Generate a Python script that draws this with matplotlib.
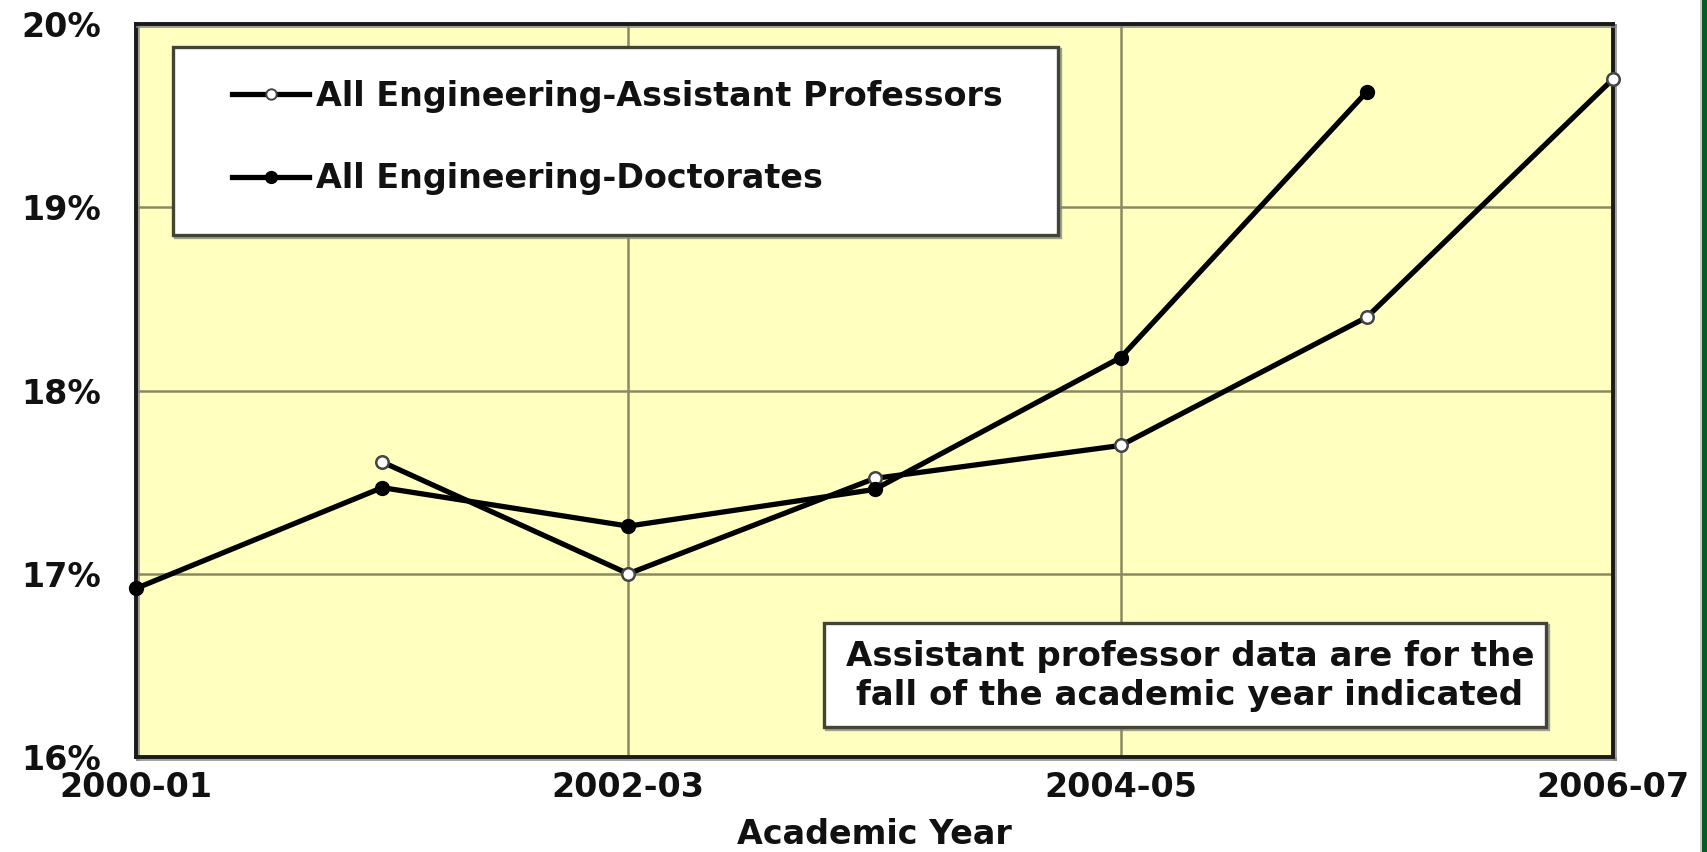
import numpy as np
import matplotlib
matplotlib.use("Agg")
import matplotlib.pyplot as plt
from matplotlib.patches import Rectangle
from matplotlib.lines import Line2D
import matplotlib.patheffects as pe

# ---- data ----
years = ["2000-01", "2001-02", "2002-03", "2003-04", "2004-05", "2005-06", "2006-07"]
tick_years = ["2000-01", "2002-03", "2004-05", "2006-07"]
asst_prof = [np.nan, 17.61, 17.00, 17.52, 17.70, 18.40, 19.70]
doctorates = [16.92, 17.47, 17.26, 17.46, 18.18, 19.63, np.nan]
y_ticks = [16, 17, 18, 19, 20]
y_tick_labels = ["16%", "17%", "18%", "19%", "20%"]
label_asst = "All Engineering-Assistant Professors"
label_doct = "All Engineering-Doctorates"
note_text = "Assistant professor data are for the\nfall of the academic year indicated"
x_label = "Academic Year"

plt.rcParams['font.family'] = ['DejaVu Sans']
plt.rcParams['font.weight'] = 'bold'

W, H = 1707, 852
fig = plt.figure(figsize=(W / 100, H / 100), dpi=100)
fig.patch.set_facecolor("white")

def fx(px):
    return px / W

def fy(py):
    return 1 - py / H

L, R, T, B = 136, 1613, 24, 757
ax = fig.add_axes([fx(L), fy(B), fx(R) - fx(L), fy(T) - fy(B)])
ax.set_facecolor("#FFFFC0")

x = np.arange(len(years))
shadow = [pe.SimpleLineShadow(offset=(1.5, -1.5), shadow_color="#888888", alpha=0.8), pe.Normal()]

ax.plot(x, asst_prof, color="black", lw=3.8, marker="o", markersize=9,
        markerfacecolor="white", markeredgecolor="#444444", markeredgewidth=1.8,
        clip_on=False, zorder=5, label=label_asst)
ax.plot(x, doctorates, color="black", lw=3.8, marker="o", markersize=10,
        markerfacecolor="black", markeredgecolor="black",
        clip_on=False, zorder=5, label=label_doct)

ax.set_xlim(0, len(years) - 1)
ax.set_ylim(16, 20)
ax.set_xticks([years.index(t) for t in tick_years])
ax.set_xticklabels(tick_years)
ax.set_yticks(y_ticks)
ax.set_yticklabels(y_tick_labels)
ax.tick_params(axis="both", length=0, colors="#111111")
ax.tick_params(axis="x", pad=10, labelsize=24)
ax.tick_params(axis="y", pad=25, labelsize=24)
for lab in ax.get_xticklabels() + ax.get_yticklabels():
    lab.set_fontweight("bold")

ax.grid(True, color="#8a8a62", lw=1.8)
ax.set_axisbelow(True)
for s in ax.spines.values():
    s.set_color("#1a1a1a")
    s.set_linewidth(2.8)
    s.set_path_effects(shadow)

fig.text(fx((L + R) / 2), fy(835), x_label, ha="center", va="center",
         fontsize=24, fontweight="bold", color="#111111")

# legend box
lg_box = Rectangle((fx(173), fy(235)), fx(1058) - fx(173), fy(47) - fy(235),
                   transform=fig.transFigure, facecolor="white", edgecolor="#444433",
                   lw=2.4, zorder=6)
lg_box.set_path_effects(shadow)
fig.patches.append(lg_box)

handles = [
    Line2D([], [], color="black", lw=3.8, marker="o", markersize=7.5,
           markerfacecolor="white", markeredgecolor="#444444", markeredgewidth=1.4),
    Line2D([], [], color="black", lw=3.8, marker="o", markersize=8.5,
           markerfacecolor="black", markeredgecolor="black"),
]
leg = fig.legend(handles, [label_asst, label_doct], loc="center left",
                 bbox_to_anchor=(fx(232), fy(137.5)), frameon=False,
                 borderpad=0, borderaxespad=0, handlelength=77 / 33.3,
                 handletextpad=0.2, labelspacing=91 / 33.3 - 1.25,
                 numpoints=1, prop={"size": 24, "weight": "bold"})
leg.set_zorder(7)
for t in leg.get_texts():
    t.set_color("#111111")

# note box
nb = Rectangle((fx(824), fy(727)), fx(1546) - fx(824), fy(623) - fy(727),
               transform=fig.transFigure, facecolor="white", edgecolor="#444433",
               lw=2.4, zorder=6)
nb.set_path_effects(shadow)
fig.patches.append(nb)
fig.text(fx(1190), fy(676), note_text, ha="center", va="center", fontsize=24.5,
         fontweight="bold", color="#111111", linespacing=1.2, zorder=7)

# right green border
fig.patches.append(Rectangle((fx(1700), 0), fx(2), 1, transform=fig.transFigure,
                             facecolor="#cccccc", edgecolor="none"))
fig.patches.append(Rectangle((fx(1702), 0), 1 - fx(1702), 1, transform=fig.transFigure,
                             facecolor="#0b5a24", edgecolor="none"))

fig.savefig("out.png", dpi=100)
